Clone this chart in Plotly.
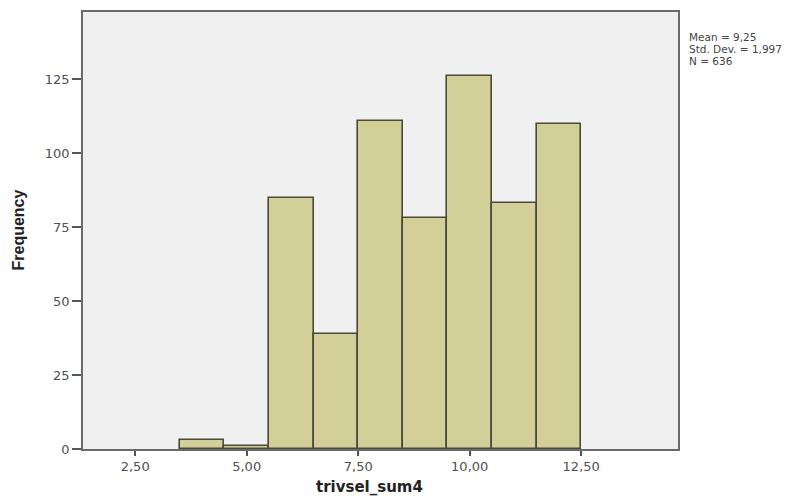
import plotly.graph_objects as go

bin_centers = [4, 5, 6, 7, 8, 9, 10, 11, 12]
frequencies = [3, 1, 85, 39, 111, 78, 126, 83, 110]
x_tick_vals = [2.5, 5.0, 7.5, 10.0, 12.5]
x_tick_text = ["2,50", "5,00", "7,50", "10,00", "12,50"]
y_tick_vals = [0, 25, 50, 75, 100, 125]
stats_lines = ["Mean = 9,25", "Std. Dev. = 1,997", "N = 636"]
x_title = "trivsel_sum4"
y_title = "Frequency"

fig = go.Figure()
fig.add_trace(go.Bar(
    x=bin_centers,
    y=frequencies,
    width=1,
    marker=dict(color="#D3CF98", line=dict(color="#4a4a3a", width=1.6)),
    showlegend=False,
))

fig.update_layout(
    width=808,
    height=496,
    margin=dict(l=83, r=130, t=12, b=47, autoexpand=False),
    paper_bgcolor="white",
    plot_bgcolor="#F0F0F0",
    font=dict(family="DejaVu Sans, sans-serif", color="#444444", size=12),
    bargap=0,
)

axis_common = dict(
    showline=True,
    linecolor="#6a6a6a",
    linewidth=1.6,
    mirror=True,
    showgrid=False,
    zeroline=False,
    automargin=False,
    tickwidth=1.5,
    tickcolor="#555555",
    ticks="outside",
    tickfont=dict(family="DejaVu Sans, sans-serif", size=13, color="#505050"),
)

fig.update_xaxes(
    range=[1.33, 14.67],
    tickvals=x_tick_vals,
    ticktext=x_tick_text,
    ticklen=5,
    **axis_common,
)

fig.update_yaxes(
    range=[0, 147.7],
    tickvals=y_tick_vals,
    ticklen=9,
    **axis_common,
)

# axis titles
fig.add_annotation(
    xref="paper", yref="paper", x=(369 - 83) / 595, y=0,
    yshift=-38, xanchor="center", yanchor="middle",
    text="<b>" + x_title + "</b>", showarrow=False,
    font=dict(family="DejaVu Sans, sans-serif", size=15, color="#222222"),
)
fig.add_annotation(
    xref="paper", yref="paper", x=0, y=0.5,
    xshift=-65, xanchor="center", yanchor="middle",
    text="<b>" + y_title + "</b>", showarrow=False, textangle=-90,
    font=dict(family="Liberation Sans, Arial, sans-serif", size=16, color="#222222"),
)

# statistics box lines
for i, line in enumerate(stats_lines):
    fig.add_annotation(
        xref="paper", yref="paper", x=1.0, y=1.0,
        xshift=9, yshift=-25 - 12 * i,
        xanchor="left", yanchor="middle",
        text=line, showarrow=False, align="left",
        font=dict(family="DejaVu Sans, sans-serif", size=10.5, color="#444444"),
    )

fig.write_html(
    "out.html",
    config={"displayModeBar": False},
    post_script="document.body.style.margin='0';document.body.style.overflow='hidden';",
)
